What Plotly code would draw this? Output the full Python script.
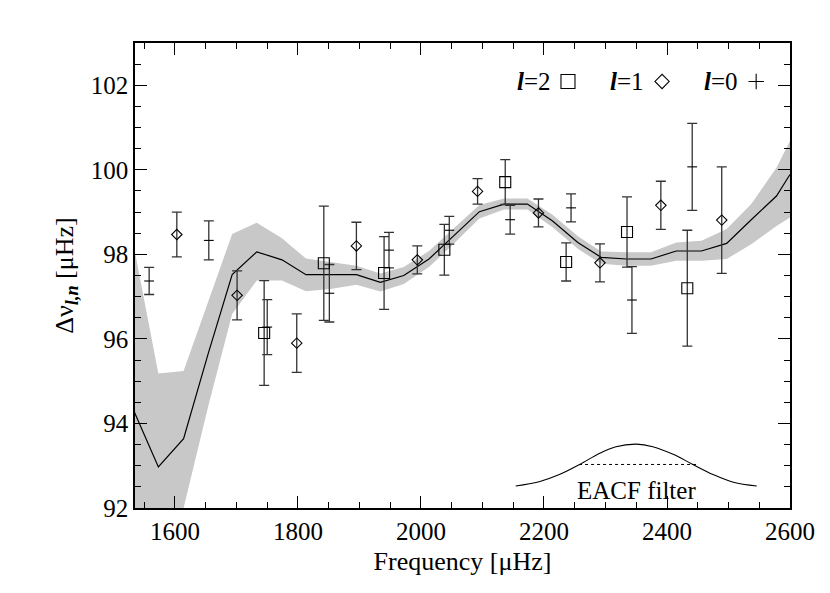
import plotly.graph_objects as go

# model curve and its uncertainty band
x_model = [1533, 1573, 1614, 1654, 1693, 1733, 1774, 1813, 1853, 1895, 1934, 1972, 2013, 2054,
           2095, 2135, 2173, 2214, 2255, 2293, 2334, 2374, 2415, 2456, 2497, 2537, 2578, 2600]
y_model = [94.30, 92.97, 93.64, 95.65, 97.52, 98.06, 97.87, 97.52, 97.52, 97.52, 97.34, 97.50, 97.89, 98.44,
           99.01, 99.19, 99.19, 98.79, 98.28, 97.93, 97.89, 97.89, 98.08, 98.08, 98.26, 98.82, 99.38, 99.89]
y_upper = [98.20, 95.18, 95.24, 96.90, 98.48, 98.75, 98.38, 97.90, 97.81, 97.73, 97.55, 97.70, 98.08, 98.62,
           99.17, 99.32, 99.32, 98.94, 98.43, 98.07, 98.05, 98.05, 98.28, 98.32, 98.60, 99.19, 100.05, 100.68]
y_lower = [90.00, 89.50, 92.00, 94.40, 96.59, 97.38, 97.38, 97.13, 97.18, 97.28, 97.12, 97.30, 97.70, 98.26,
           98.85, 99.06, 99.06, 98.64, 98.13, 97.78, 97.73, 97.73, 97.85, 97.85, 97.89, 98.24, 98.67, 98.87]

# l=0 modes
x_l0 = [1558, 1655, 1750, 1851, 1948, 2046, 2145, 2244, 2343, 2441]
y_l0 = [97.37, 98.33, 96.28, 97.08, 98.10, 98.57, 98.82, 99.10, 96.92, 100.07]
e_l0 = [0.32, 0.46, 0.65, 0.68, 0.42, 0.33, 0.34, 0.33, 0.79, 1.03]

# l=1 modes
x_l1 = [1603, 1701, 1798, 1895, 1994, 2092, 2191, 2291, 2390, 2489]
y_l1 = [98.47, 97.03, 95.90, 98.20, 97.87, 99.49, 98.98, 97.80, 99.16, 98.81]
e_l1 = [0.53, 0.58, 0.69, 0.56, 0.33, 0.30, 0.33, 0.45, 0.57, 1.26]

# l=2 modes
x_l2 = [1745, 1842, 1940, 2038, 2137, 2236, 2335, 2433]
y_l2 = [96.14, 97.79, 97.56, 98.11, 99.71, 97.82, 98.53, 97.20]
e_l2 = [1.24, 1.35, 0.86, 0.60, 0.53, 0.45, 0.83, 1.37]

# EACF filter sketch
x_filt = [2154, 2192, 2225, 2258, 2290, 2317, 2350, 2377, 2410, 2442, 2475, 2508, 2546]
y_filt = [92.52, 92.62, 92.79, 93.03, 93.29, 93.45, 93.51, 93.45, 93.27, 93.03, 92.79, 92.61, 92.52]
x_half = [2257, 2448]
y_half = [93.03, 93.03]

FONT = "Liberation Serif"
ERR_COLOR = "#333333"

fig = go.Figure()

fig.add_trace(go.Scatter(x=x_model, y=y_lower, mode="lines", line=dict(width=0),
                         hoverinfo="skip", showlegend=False))
fig.add_trace(go.Scatter(x=x_model, y=y_upper, mode="lines", line=dict(width=0),
                         fill="tonexty", fillcolor="#c8c8c8", hoverinfo="skip", showlegend=False))
fig.add_trace(go.Scatter(x=x_model, y=y_model, mode="lines",
                         line=dict(color="black", width=1.2), showlegend=False))


def modes(x, y, err, symbol, size):
    return go.Scatter(
        x=x, y=y, mode="markers",
        marker=dict(symbol=symbol, size=size, color="black", line=dict(color="black", width=1.1)),
        error_y=dict(type="data", array=err, visible=True, color=ERR_COLOR, thickness=1.3, width=5),
        showlegend=False,
    )


fig.add_trace(modes(x_l0, y_l0, e_l0, "line-ew-open", 7))
fig.add_trace(modes(x_l1, y_l1, e_l1, "diamond-open", 8))
fig.add_trace(modes(x_l2, y_l2, e_l2, "square-open", 11))

fig.add_trace(go.Scatter(x=x_filt, y=y_filt, mode="lines", line=dict(color="black", width=1.1, shape="spline"),
                         showlegend=False))
fig.add_trace(go.Scatter(x=x_half, y=y_half, mode="lines", line=dict(color="black", width=1, dash="dot"),
                         showlegend=False))
fig.add_annotation(x=2350, y=92.42, text="EACF filter", showarrow=False,
                   font=dict(family=FONT, size=25, color="black"))

# legend drawn by hand, like the original
leg_y = 102.09
for txt_x, sym_x, lab, sym, sz in [(2215, 2239, "2", "square-open", 14),
                                   (2366, 2392, "1", "diamond-open", 11),
                                   (2518, 2545, "0", "cross-thin-open", 11)]:
    fig.add_annotation(x=txt_x, y=leg_y, text="<b><i>l</i></b>=" + lab, showarrow=False,
                       xanchor="right", font=dict(family=FONT, size=25, color="black"))
    fig.add_trace(go.Scatter(x=[sym_x], y=[leg_y], mode="markers",
                             marker=dict(symbol=sym, size=sz, color="black",
                                         line=dict(color="black", width=1.1)),
                             showlegend=False))

axis_common = dict(
    showline=True, linecolor="black", linewidth=1.5, mirror="ticks",
    ticks="inside", ticklen=12, tickwidth=1.3, tickcolor="black",
    showgrid=False, zeroline=False, automargin=False,
    tickfont=dict(family=FONT, size=25, color="black"),
)

fig.update_xaxes(
    range=[1535, 2600], tick0=1600, dtick=200,
    minor=dict(ticks="inside", ticklen=6, tickwidth=1.2, tickcolor="black", dtick=50, tick0=1550),
    title=dict(text="Frequency [μHz]", font=dict(family=FONT, size=26, color="black"), standoff=8),
    **axis_common,
)
fig.update_yaxes(
    range=[92, 103], tick0=92, dtick=2,
    minor=dict(ticks="inside", ticklen=6, tickwidth=1.2, tickcolor="black", dtick=0.5),
    title=dict(text="Δν<sub><b><i>l,n</i></b></sub> [μHz]",
               font=dict(family=FONT, size=26, color="black"), standoff=10),
    **axis_common,
)

fig.update_layout(
    width=830, height=593,
    margin=dict(l=135, r=40, t=43, b=85),
    plot_bgcolor="white", paper_bgcolor="white",
    showlegend=False,
)

fig.write_html("out.html", config={"displayModeBar": False},
               post_script="document.body.style.margin='0';")
